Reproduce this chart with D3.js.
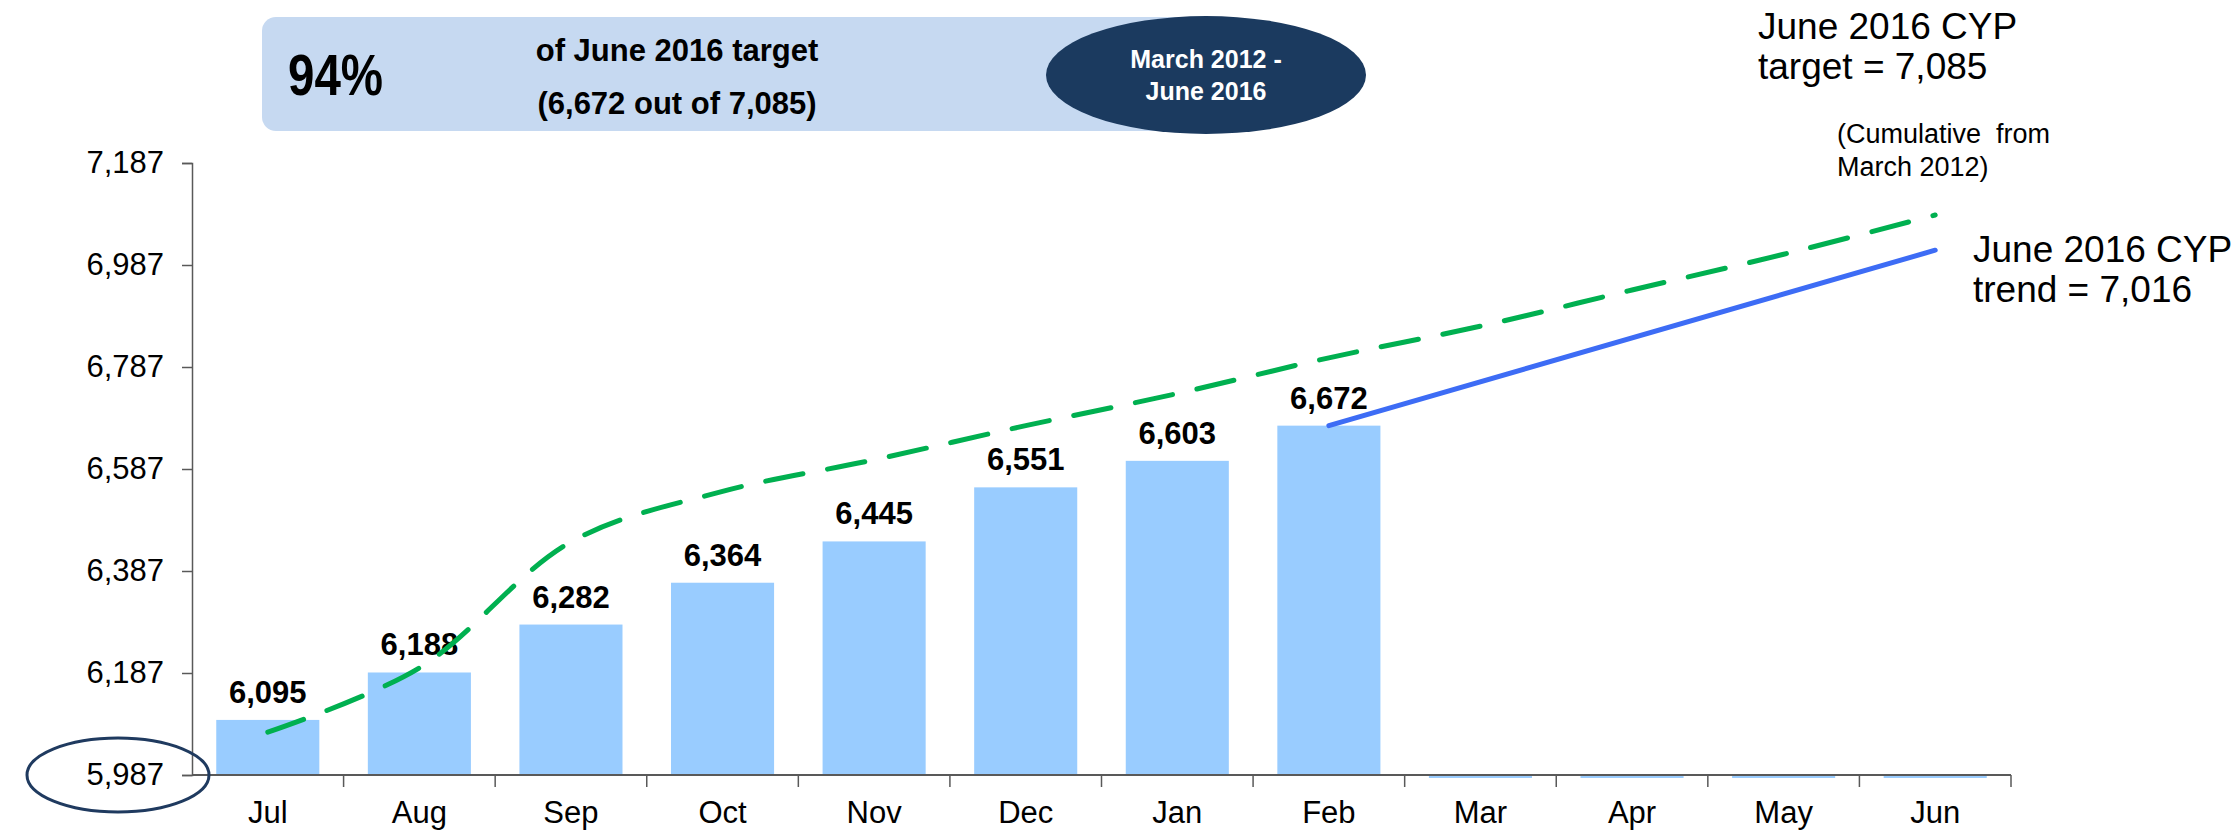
<!DOCTYPE html>
<html>
<head>
<meta charset="utf-8">
<script src="https://cdn.jsdelivr.net/npm/d3@7"></script>
<style>
  body { margin: 0; background: #fff; }
  svg { font-family: Arial, "Liberation Sans", sans-serif; }
</style>
</head>
<body>
<script>
// chart data
const months = ["Jul", "Aug", "Sep", "Oct", "Nov", "Dec", "Jan", "Feb", "Mar", "Apr", "May", "Jun"];
const actual = [6095, 6188, 6282, 6364, 6445, 6551, 6603, 6672, 0, 0, 0, 0];
const target = [6071, 6197, 6444, 6543, 6605, 6672, 6735, 6805, 6867, 6938, 7008, 7085];
const trendMonths = ["Feb", "Jun"];
const trend = [6672, 7016];
const yTicks = [5987, 6187, 6387, 6587, 6787, 6987, 7187];

const width = 2236;
const height = 839;
const margin = { top: 163, right: 225, bottom: 64, left: 192 };

const svg = d3.select("body")
  .append("svg")
  .attr("width", width)
  .attr("height", height);

const x = d3.scaleBand()
  .domain(months)
  .range([margin.left, width - margin.right]);

const y = d3.scaleLinear()
  .domain([5987, 7187])
  .range([height - margin.bottom, margin.top]);

const barW = x.bandwidth() * 0.68;
const fmt = d3.format(",");

// bars (Mar-Jun have no data, drawn as a thin strip on the baseline)
svg.selectAll(".bar")
  .data(months)
  .enter()
  .append("rect")
  .attr("x", (d) => x(d) + (x.bandwidth() - barW) / 2)
  .attr("y", (d, i) => actual[i] > y.domain()[0] ? y(actual[i]) : y.range()[0] - 1)
  .attr("width", barW)
  .attr("height", (d, i) => actual[i] > y.domain()[0] ? y.range()[0] - y(actual[i]) : 4)
  .style("fill", "#99ccff");

// value labels
svg.selectAll(".val")
  .data(months.filter((d, i) => actual[i] > 0))
  .enter()
  .append("text")
  .attr("x", (d) => x(d) + x.bandwidth() / 2)
  .attr("y", (d, i) => y(actual[i]) - 17)
  .attr("text-anchor", "middle")
  .style("font-size", "31px")
  .style("font-weight", "bold")
  .text((d, i) => fmt(actual[i]));

// y axis
svg.append("g")
  .attr("transform", `translate(${margin.left},0)`)
  .call(d3.axisLeft(y).tickValues(yTicks).tickFormat(fmt).tickSize(10).tickPadding(18))
  .call((g) => g.selectAll("path, line").attr("stroke", "#595959").attr("stroke-width", 1.5))
  .call((g) => g.selectAll("text").style("font-size", "31px").attr("fill", "#000"));

// x axis with ticks on the band edges
const xAxis = svg.append("g")
  .attr("transform", `translate(0,${height - margin.bottom})`);
xAxis.append("line")
  .attr("x1", margin.left)
  .attr("x2", width - margin.right)
  .attr("stroke", "#595959")
  .attr("stroke-width", 2);
xAxis.selectAll(".tick")
  .data(months)
  .enter()
  .append("line")
  .attr("x1", (d) => x(d) + x.bandwidth())
  .attr("x2", (d) => x(d) + x.bandwidth())
  .attr("y2", 12)
  .attr("stroke", "#595959")
  .attr("stroke-width", 1.5);
xAxis.selectAll(".lbl")
  .data(months)
  .enter()
  .append("text")
  .attr("x", (d) => x(d) + x.bandwidth() / 2)
  .attr("y", 48)
  .attr("text-anchor", "middle")
  .style("font-size", "31px")
  .text((d) => d);

// target line (dashed green)
const targetLine = d3.line()
  .x((d, i) => x(months[i]) + x.bandwidth() / 2)
  .y((d) => y(d))
  .curve(d3.curveCatmullRom.alpha(0.5));

svg.append("path")
  .datum(target)
  .attr("d", targetLine)
  .style("fill", "none")
  .style("stroke", "#00b050")
  .style("stroke-width", 5)
  .style("stroke-dasharray", "38,25")
  .style("stroke-linecap", "round");

// trend line (blue)
svg.append("path")
  .datum(trend)
  .attr("d", d3.line()
    .x((d, i) => x(trendMonths[i]) + x.bandwidth() / 2)
    .y((d) => y(d)))
  .style("fill", "none")
  .style("stroke", "#3d6cf5")
  .style("stroke-width", 5)
  .style("stroke-linecap", "round");

// circle round the base value
svg.append("ellipse")
  .attr("cx", 118)
  .attr("cy", y(5987))
  .attr("rx", 91)
  .attr("ry", 37)
  .style("fill", "none")
  .style("stroke", "#1f3a5f")
  .style("stroke-width", 3);

// banner
svg.append("rect")
  .attr("x", 262)
  .attr("y", 17)
  .attr("width", 980)
  .attr("height", 114)
  .attr("rx", 14)
  .style("fill", "#c6d9f1");

svg.append("text")
  .attr("x", 288)
  .attr("y", 95)
  .attr("textLength", 95)
  .attr("lengthAdjust", "spacingAndGlyphs")
  .style("font-size", "57px")
  .style("font-weight", "bold")
  .text("94%");

svg.append("text")
  .attr("x", 677)
  .attr("y", 61)
  .attr("text-anchor", "middle")
  .style("font-size", "31px")
  .style("font-weight", "bold")
  .text("of June 2016 target");

svg.append("text")
  .attr("x", 677)
  .attr("y", 114)
  .attr("text-anchor", "middle")
  .style("font-size", "31px")
  .style("font-weight", "bold")
  .text("(6,672 out of 7,085)");

svg.append("ellipse")
  .attr("cx", 1206)
  .attr("cy", 75)
  .attr("rx", 160)
  .attr("ry", 59)
  .style("fill", "#1b3a5f");

svg.append("text")
  .attr("x", 1206)
  .attr("y", 68)
  .attr("text-anchor", "middle")
  .style("font-size", "25px")
  .style("font-weight", "bold")
  .style("fill", "#fff")
  .text("March 2012 -");

svg.append("text")
  .attr("x", 1206)
  .attr("y", 100)
  .attr("text-anchor", "middle")
  .style("font-size", "25px")
  .style("font-weight", "bold")
  .style("fill", "#fff")
  .text("June 2016");

// annotations on the right
const notes = [
  { x: 1758, y: 39, size: 37, lines: ["June 2016 CYP", "target = 7,085"], dy: 40 },
  { x: 1837, y: 143, size: 27, lines: ["(Cumulative  from", "March 2012)"], dy: 33 },
  { x: 1973, y: 262, size: 37, lines: ["June 2016 CYP", "trend = 7,016"], dy: 40 }
];
notes.forEach((n) => {
  const t = svg.append("text")
    .attr("x", n.x)
    .attr("y", n.y)
    .style("font-size", n.size + "px")
    .style("white-space", "pre");
  n.lines.forEach((l, i) => {
    t.append("tspan")
      .attr("x", n.x)
      .attr("dy", i === 0 ? 0 : n.dy)
      .text(l);
  });
});
</script>
</body>
</html>
